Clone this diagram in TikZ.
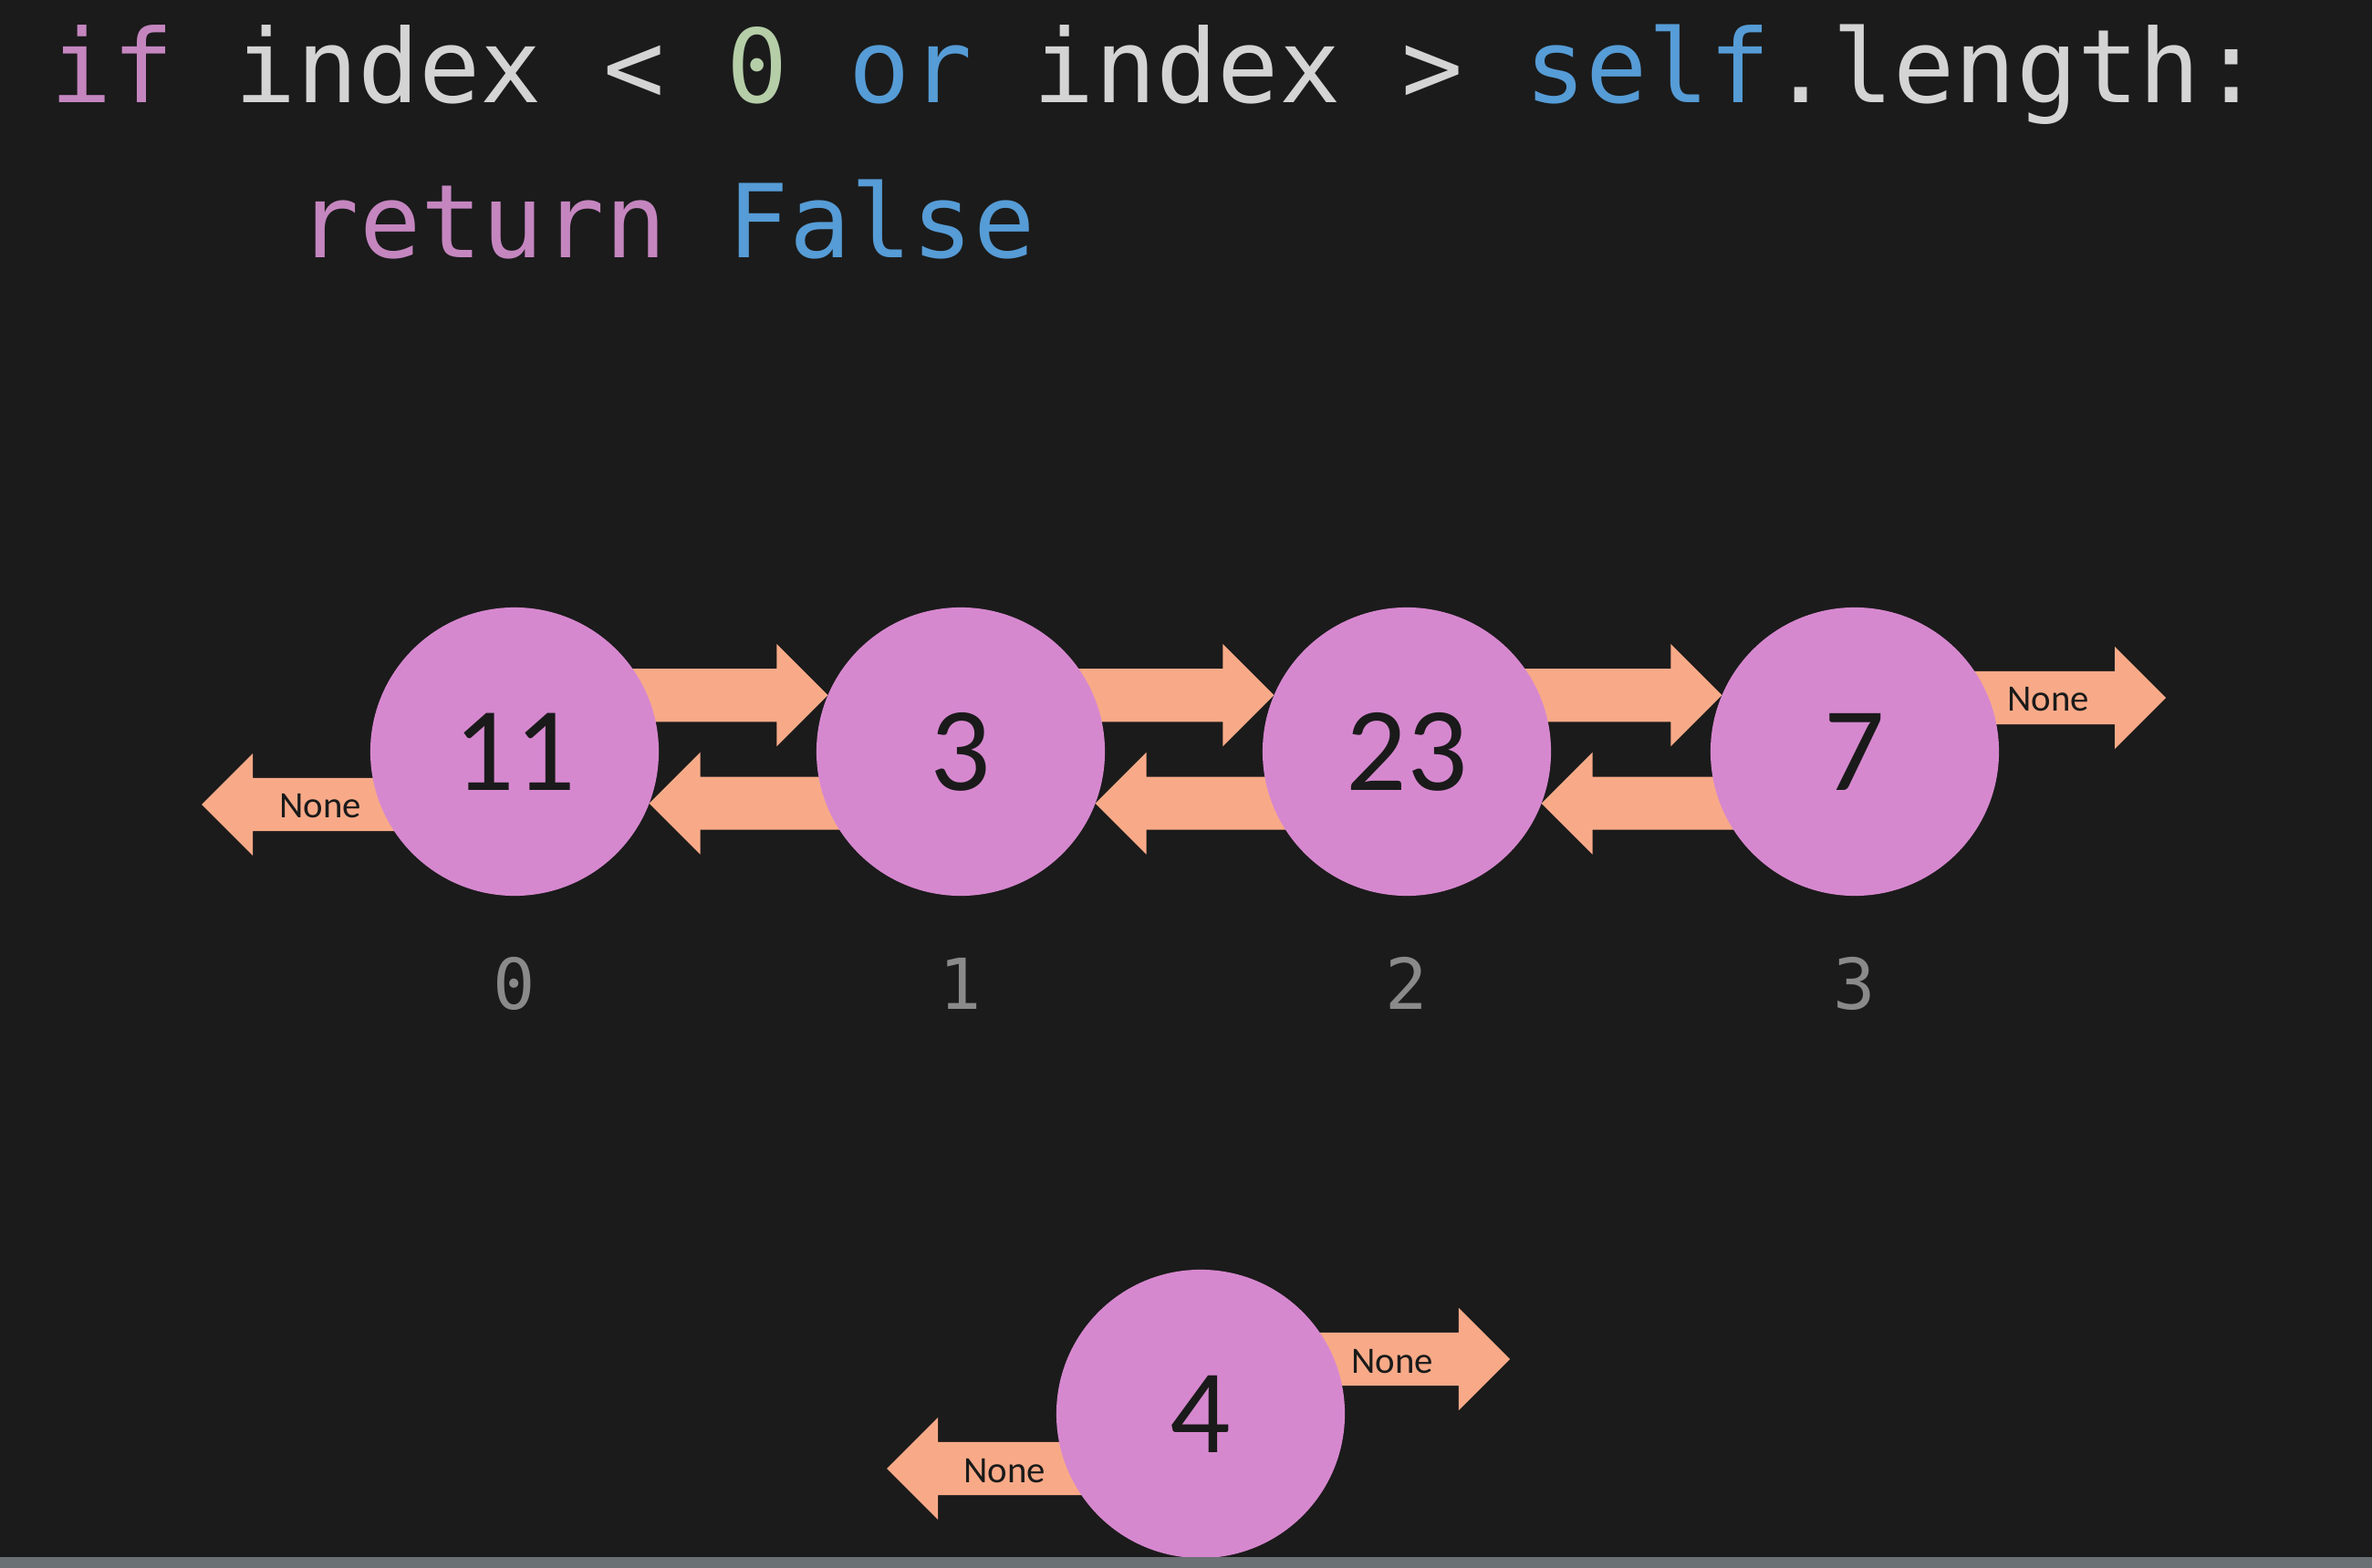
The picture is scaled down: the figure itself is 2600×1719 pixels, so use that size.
\documentclass[tikz,border=0pt]{standalone}
\usepackage{fontspec}
\setmainfont{Carlito}
\newfontfamily\codefont{DejaVu Sans Mono}
\usetikzlibrary{calc}
\definecolor{bgc}{HTML}{1B1B1B}
\definecolor{kwc}{HTML}{C586C0}
\definecolor{bluec}{HTML}{569CD6}
\definecolor{plainc}{HTML}{D4D4D4}
\definecolor{numc}{HTML}{B5CEA8}
\definecolor{nodec}{HTML}{D688CF}
\definecolor{arrc}{HTML}{F8AA88}
\definecolor{darkc}{HTML}{1A1A1A}
\definecolor{idxc}{HTML}{8A8A8A}
\definecolor{stripc}{HTML}{6B7074}
\pgfdeclarelayer{bgrect}
\pgfdeclarelayer{bg}
\pgfsetlayers{bgrect,bg,main}
\tikzset{
  lnode/.style={circle, fill=nodec, minimum size=3.16cm, inner sep=0pt, outer sep=0pt,
    text=darkc, font=\fontsize{37.3}{40}\selectfont},
  idx/.style={inner sep=0pt, text=idxc, font=\codefont\fontsize{21.9}{24}\selectfont},
  nonetxt/.style={inner sep=0pt, text=darkc, font=\fontsize{11.6}{13}\selectfont},
  codeline/.style={anchor=base west, inner sep=0pt, text=plainc, font=\codefont\fontsize{31.8}{36}\selectfont},
  arrfill/.style={fill=arrc},
}
% block arrow pointing right: #1 tail, #2 tip
\newcommand\rightarr[2]{%
  \fill[arrfill] let \p1=(#1), \p2=(#2) in
   (\x1,\y2+0.29cm) -- (\x2-0.56cm,\y2+0.29cm) -- (\x2-0.56cm,\y2+0.56cm) -- (\p2)
   -- (\x2-0.56cm,\y2-0.56cm) -- (\x2-0.56cm,\y2-0.29cm) -- (\x1,\y2-0.29cm) -- cycle;}
% block arrow pointing left
\newcommand\leftarr[2]{%
  \fill[arrfill] let \p1=(#1), \p2=(#2) in
   (\x1,\y2+0.29cm) -- (\x2+0.56cm,\y2+0.29cm) -- (\x2+0.56cm,\y2+0.56cm) -- (\p2)
   -- (\x2+0.56cm,\y2-0.56cm) -- (\x2+0.56cm,\y2-0.29cm) -- (\x1,\y2-0.29cm) -- cycle;}
\begin{document}
\begin{tikzpicture}[x=0.01cm, y=0.01cm]
\begin{pgfonlayer}{bgrect}
  \fill[bgc] (0,0) rectangle (2600,-1719);
\end{pgfonlayer}
\useasboundingbox (0,0) rectangle (2600,-1719);

% code
\node[codeline] (code1) at (55,-113) {\textcolor{kwc}{if} index < \textcolor{numc}{0} \textcolor{bluec}{or} index > \textcolor{bluec}{self}.length:};
\node[codeline] (code2) at (326,-283) {\textcolor{kwc}{return} \textcolor{bluec}{False}};

% nodes
\node[lnode] (n11) at (564,-824) {11};
\node[lnode] (n3) at (1053,-824) {3};
\node[lnode] (n23) at (1542,-824) {23};
\node[lnode] (n7) at (2033,-824) {7};
\node[lnode] (n4) at (1316,-1550) {4};

% indices
\node[idx] (i0) at (564,-1078) {0};
\node[idx] (i1) at (1053,-1078) {1};
\node[idx] (i2) at (1542,-1078) {2};
\node[idx] (i3) at (2033,-1078) {3};

% free ends
\coordinate (nl11) at (221,-882);
\coordinate (nr7) at (2374,-765);
\coordinate (nr4) at (1655,-1490);
\coordinate (nl4) at (972,-1610);

\begin{pgfonlayer}{bg}
  \rightarr{n11.center}{n3.157.7}
  \rightarr{n3.center}{n23.157.7}
  \rightarr{n23.center}{n7.157.7}
  \leftarr{n3.center}{n11.-21.5}
  \leftarr{n23.center}{n3.-21.5}
  \leftarr{n7.center}{n23.-21.5}
  \leftarr{n11.center}{nl11}
  \rightarr{n7.center}{nr7}
  \rightarr{n4.center}{nr4}
  \leftarr{n4.center}{nl4}
\end{pgfonlayer}

% None labels
\node[nonetxt] (t1) at (351,-884) {None};
\node[nonetxt] (t2) at (2245,-767) {None};
\node[nonetxt] (t3) at (1526,-1493) {None};
\node[nonetxt] (t4) at (1101,-1613) {None};

% bottom strip
\fill[stripc] (0,-1707) rectangle (2600,-1719);
\end{tikzpicture}
\end{document}
